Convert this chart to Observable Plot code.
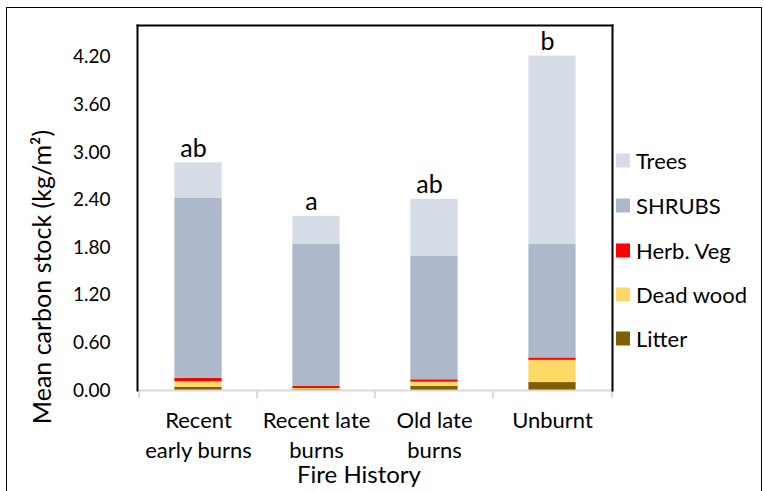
<!DOCTYPE html>
<html>
<head>
<meta charset="utf-8">
<script src="https://cdn.jsdelivr.net/npm/d3@7"></script>
<script src="https://cdn.jsdelivr.net/npm/@observablehq/plot@0.6"></script>
<style>
  html, body { margin: 0; padding: 0; background: #fff; }
  #wrap { position: relative; width: 765px; height: 491px; overflow: hidden; font-family: Lato, "Open Sans", sans-serif; color: #000; }
  #border { position: absolute; left: 6px; top: 7px; width: 756px; height: 500px; border: 1px solid #000; box-sizing: border-box; pointer-events: none; }
  #chart { position: absolute; left: 0; top: 0; }
  #legend { position: absolute; left: 616px; top: 0; font-size: 22px; }
  .item { position: absolute; left: 0; display: flex; align-items: center; white-space: nowrap; transform: translateY(-50%); }
  .sw { width: 14px; height: 14px; margin-right: 6px; }
</style>
</head>
<body>
<div id="wrap">
  <div id="chart"></div>
  <div id="legend"></div>
  <div id="border"></div>
</div>
<script>
const categories = ["Recent early burns", "Recent late burns", "Old late burns", "Unburnt"];
const tickLabels = ["Recent\nearly burns", "Recent late\nburns", "Old late\nburns", "Unburnt"];
const components = ["Litter", "Dead wood", "Herb. Veg", "SHRUBS", "Trees"];
const litter   = [0.04, 0.01, 0.05, 0.10];
const deadWood = [0.07, 0.015, 0.055, 0.28];
const herbVeg  = [0.045, 0.025, 0.03, 0.03];
const shrubs   = [2.265, 1.795, 1.56, 1.43];
const trees    = [0.45, 0.35, 0.715, 2.375];
const letters  = ["ab", "a", "ab", "b"];
const colors   = ["#7f6000", "#ffd966", "#ff0000", "#adb9ca", "#d6dce5"];
const yTicks   = [0, 0.6, 1.2, 1.8, 2.4, 3.0, 3.6, 4.2];
const legendOrder = ["Trees", "SHRUBS", "Herb. Veg", "Dead wood", "Litter"];

const series = [litter, deadWood, herbVeg, shrubs, trees];
const rows = [];
categories.forEach((c, i) => {
  components.forEach((comp, j) => rows.push({cat: c, comp, value: series[j][i]}));
});
const totals = categories.map((c, i) => series.reduce((s, arr) => s + arr[i], 0));

const W = 765, H = 491, mL = 137, mR = 153, mT = 25, mB = 101;
const bw = (W - mL - mR) / categories.length;
const barW = 48;
const inset = (bw - barW) / 2;

const chart = Plot.plot({
  width: W, height: H,
  marginLeft: mL, marginRight: mR, marginTop: mT, marginBottom: mB,
  style: {fontFamily: "Lato, 'Open Sans', sans-serif", color: "#000", background: "transparent"},
  x: {domain: categories, padding: 0, axis: null},
  y: {domain: [0, 4.6], axis: null},
  color: {domain: components, range: colors},
  marks: [
    Plot.barY(rows, {x: "cat", y: "value", fill: "comp", insetLeft: inset, insetRight: inset}),
    Plot.axisY({ticks: yTicks, tickFormat: d3.format(".2f"), tickSize: 0, tickPadding: 27, fontSize: 19, label: null}),
    Plot.ruleY([0], {stroke: "#d9d9d9", strokeWidth: 2}),
    Plot.ruleX(categories, {x: d => d, dx: -bw / 2, y1: 0, y2: 0, insetBottom: -8, stroke: "#d9d9d9", strokeWidth: 2}),
    Plot.ruleX([categories[categories.length - 1]], {x: d => d, dx: bw / 2, y1: 0, y2: 0, insetBottom: -8, stroke: "#d9d9d9", strokeWidth: 2}),
    Plot.frame({anchor: "left", stroke: "#000", strokeWidth: 2}),
    Plot.frame({anchor: "top", stroke: "#000", strokeWidth: 2}),
    Plot.frame({anchor: "right", stroke: "#000", strokeWidth: 2}),
    Plot.text(categories, {x: d => d, text: (d, i) => tickLabels[i], frameAnchor: "bottom", lineAnchor: "top", dy: 16, lineHeight: 1.36, fontSize: 22, fill: "#000"}),
    Plot.text(["Fire History"], {text: d => d, frameAnchor: "bottom", lineAnchor: "top", dy: 75, dx: -16, fontSize: 24, fill: "#000"}),
    Plot.text(["Mean carbon stock (kg/m²)"], {text: d => d, frameAnchor: "left", rotate: -90, dx: -95, dy: 69, fontSize: 25, textAnchor: "middle", lineAnchor: "middle", fill: "#000"}),
    Plot.text(categories, {x: d => d, y: (d, i) => totals[i], text: (d, i) => letters[i], lineAnchor: "bottom", dy: -6, dx: -5, fontSize: 25, fill: "#000"})
  ]
});
document.getElementById("chart").appendChild(chart);

const legendTops = [160, 205, 250, 294, 338];
const legend = document.getElementById("legend");
legendOrder.forEach((name, k) => {
  const j = components.indexOf(name);
  const item = document.createElement("div");
  item.className = "item";
  item.style.top = legendTops[k] + "px";
  const sw = document.createElement("div");
  sw.className = "sw";
  sw.style.background = colors[j];
  const t = document.createElement("span");
  t.textContent = name;
  item.appendChild(sw);
  item.appendChild(t);
  legend.appendChild(item);
});
</script>
</body>
</html>
